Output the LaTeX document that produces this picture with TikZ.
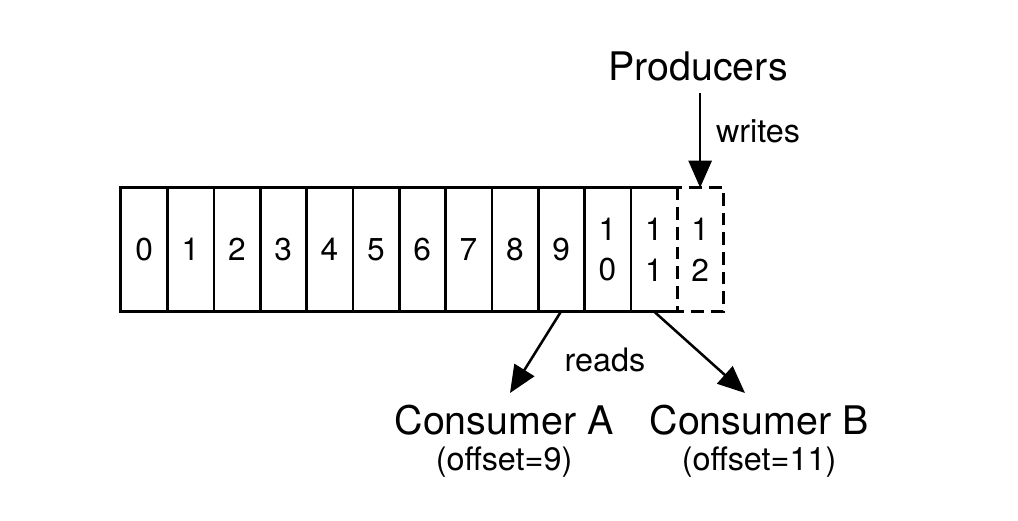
\documentclass[tikz,border=0pt]{standalone}
\usepackage{fontspec}
\setmainfont{TeX Gyre Heros}
\usetikzlibrary{arrows.meta}

\begin{document}
\begin{tikzpicture}[x=0.025cm,y=-0.025cm,
    cell/.style={minimum width=1.158cm,minimum height=3.075cm,inner sep=0,align=center,font=\fontsize{22.5pt}{29pt}\selectfont},
    label/.style={inner sep=0,font=\fontsize{23pt}{27pt}\selectfont},
    title/.style={inner sep=0,font=\fontsize{28pt}{32pt}\selectfont},
    flow/.style={line width=1.8pt,-{Triangle[length=0.68cm,width=0.58cm]}}]
    \pgfmathsetmacro{\cellwidth}{46.33}
    \pgfmathsetmacro{\logleft}{121}
    \pgfmathsetmacro{\logmid}{249.5}
    \useasboundingbox (0,0) rectangle (1018,520);
    % the log
    \foreach \i/\txt in {0/0,1/1,2/2,3/3,4/4,5/5,6/6,7/7,8/8,9/9,10/1\\0,11/1\\1,12/1\\2}
        \node[cell] (c\i) at (\logleft+\cellwidth*\i+\cellwidth/2,\logmid) {\txt};
    \draw[line width=1.8pt] (c11.north east) -- (c0.north west) -- (c0.south west) -- (c11.south east);
    \foreach \i in {0,...,10}
        \draw[line width=1.8pt] (c\i.north east) -- (c\i.south east);
    \draw[line width=1.8pt,dash pattern=on 9pt off 5pt] (c11.north east) rectangle (c12.south east);
    % producers
    \node[title] (prod) at (698,66) {Producers};
    \node[label] (writes) at (758,131) {writes};
    \draw[flow] (prod.south -| c12) ++(0,12) coordinate (wstart) -- (c12.north);
    % consumers
    \node[title] (consa) at (504,420) {Consumer A};
    \node[label] (offa) at (504,462) {(offset=9)};
    \node[title] (consb) at (759,420) {Consumer B};
    \node[label] (offb) at (759,462) {(offset=11)};
    \node[label] (reads) at (605,360) {reads};
    \coordinate (ra) at (510,393);
    \coordinate (rb) at (745,393);
    \draw[flow] (c9.south) -- (ra);
    \draw[flow] (c11.south) -- (rb);
\end{tikzpicture}
\end{document}
